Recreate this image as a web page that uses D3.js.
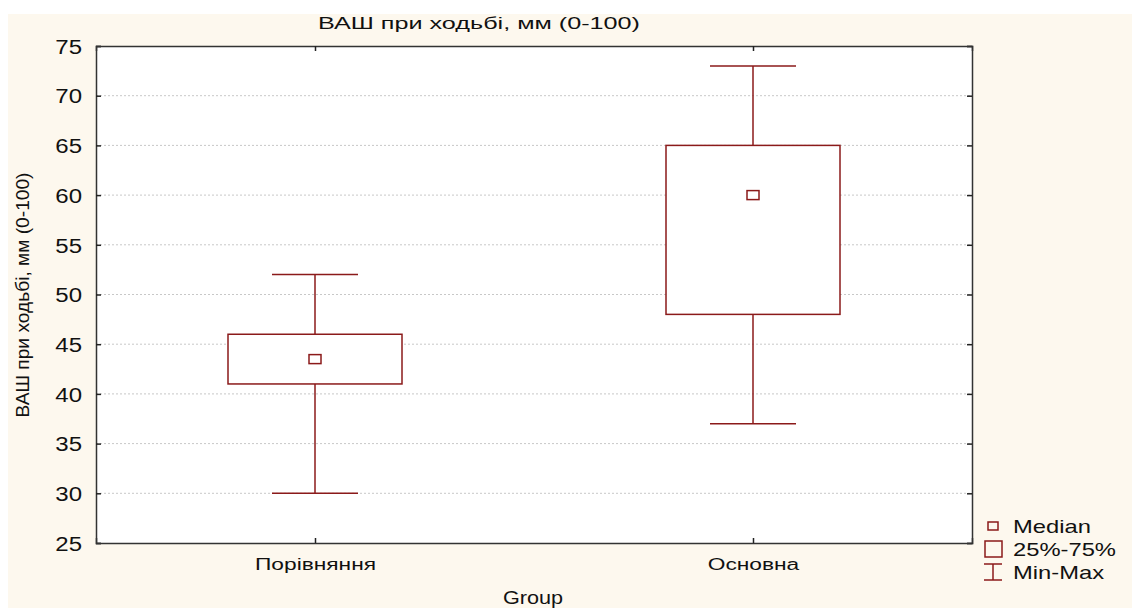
<!DOCTYPE html>
<html>
<head>
<meta charset="utf-8">
<script src="https://cdn.jsdelivr.net/npm/d3@7"></script>
<style>
  body { margin: 0; background: #fff; }
  text { font-family: "Liberation Sans", Arial, sans-serif; fill: #111; }
</style>
</head>
<body>
<div class="chart-container"></div>
<script>
var width = 1132;
var height = 608;

// Data
var groups = ['Порівняння', 'Основна'];
var mins = [30, 37];
var q1s = [41, 48];
var medians = [43.5, 60];
var q3s = [46, 65];
var maxs = [52, 73];
var yTicks = [25, 30, 35, 40, 45, 50, 55, 60, 65, 70, 75];
var legendLabels = ['Median', '25%-75%', 'Min-Max'];

var margin = { left: 96, top: 46, right: 972, bottom: 543 };
var boxColor = '#8b1a1a';

// the original text looks stretched sideways, so widen it to fit
function stretch(sel, factor) {
  sel.each(function () {
    var w = this.getComputedTextLength();
    d3.select(this)
      .attr('textLength', w * factor)
      .attr('lengthAdjust', 'spacingAndGlyphs');
  });
}

var svg = d3.select('.chart-container')
  .append('svg')
  .attr('width', width)
  .attr('height', height);

// cream background
svg.append('rect')
  .attr('x', 8).attr('y', 14)
  .attr('width', width - 8).attr('height', height - 14)
  .attr('fill', '#fdf8ee');

svg.append('rect')
  .attr('x', margin.left).attr('y', margin.top)
  .attr('width', margin.right - margin.left)
  .attr('height', margin.bottom - margin.top)
  .attr('fill', '#fff');

var xScale = d3.scalePoint()
  .domain(groups)
  .range([margin.left, margin.right])
  .padding(0.5);

var yScale = d3.scaleLinear()
  .domain([25, 75])
  .range([margin.bottom, margin.top]);

// grid lines
svg.append('g')
  .selectAll('line')
  .data(yTicks.slice(1, -1))
  .enter()
  .append('line')
  .attr('x1', margin.left).attr('x2', margin.right)
  .attr('y1', d => yScale(d)).attr('y2', d => yScale(d))
  .attr('stroke', '#c8c8c8')
  .attr('stroke-dasharray', '2,2');

// axes, ticks point inward
var gy = svg.append('g')
  .attr('transform', 'translate(' + margin.left + ',0)')
  .call(d3.axisLeft(yScale).tickValues(yTicks).tickSize(-5).tickPadding(14));
gy.selectAll('text').style('font-size', '20px').attr('dy', '0.36em');

var gyr = svg.append('g')
  .attr('transform', 'translate(' + margin.right + ',0)')
  .call(d3.axisRight(yScale).tickValues(yTicks).tickSize(-5).tickFormat(''));

var gx = svg.append('g')
  .attr('transform', 'translate(0,' + margin.bottom + ')')
  .call(d3.axisBottom(xScale).tickSize(-5).tickPadding(16));
gx.selectAll('text').style('font-size', '16px');

var gxt = svg.append('g')
  .attr('transform', 'translate(0,' + margin.top + ')')
  .call(d3.axisTop(xScale).tickSize(-5).tickFormat(''));

[gy, gyr, gx, gxt].forEach(function (g) {
  g.select('.domain').attr('stroke', '#333').attr('stroke-width', 1.5);
  g.selectAll('.tick line').attr('stroke', '#222').attr('stroke-width', 1.5);
});
svg.selectAll('.tick text').attr('fill', '#111');

// boxes
var boxW = 174;
var capW = 86;
var boxes = svg.append('g');

boxes.selectAll('.whisker')
  .data(groups)
  .enter()
  .append('line')
  .attr('class', 'whisker')
  .attr('x1', d => xScale(d)).attr('x2', d => xScale(d))
  .attr('y1', (d, i) => yScale(mins[i]))
  .attr('y2', (d, i) => yScale(maxs[i]))
  .attr('stroke', boxColor).attr('stroke-width', 1.5);

['min', 'max'].forEach(function (k) {
  boxes.selectAll('.cap-' + k)
    .data(groups)
    .enter()
    .append('line')
    .attr('x1', d => xScale(d) - capW / 2).attr('x2', d => xScale(d) + capW / 2)
    .attr('y1', (d, i) => yScale(k === 'min' ? mins[i] : maxs[i]))
    .attr('y2', (d, i) => yScale(k === 'min' ? mins[i] : maxs[i]))
    .attr('stroke', boxColor).attr('stroke-width', 1.5);
});

boxes.selectAll('.box')
  .data(groups)
  .enter()
  .append('rect')
  .attr('x', d => xScale(d) - boxW / 2)
  .attr('y', (d, i) => yScale(q3s[i]))
  .attr('width', boxW)
  .attr('height', (d, i) => yScale(q1s[i]) - yScale(q3s[i]))
  .attr('fill', '#fff')
  .attr('stroke', boxColor).attr('stroke-width', 1.5);

boxes.selectAll('.median')
  .data(groups)
  .enter()
  .append('rect')
  .attr('x', d => xScale(d) - 6)
  .attr('y', (d, i) => yScale(medians[i]) - 4.5)
  .attr('width', 12).attr('height', 9)
  .attr('fill', '#fff')
  .attr('stroke', boxColor).attr('stroke-width', 1.5);

// titles
svg.append('text')
  .attr('x', 479).attr('y', 29)
  .attr('text-anchor', 'middle')
  .style('font-size', '17px')
  .attr('textLength', 322)
  .attr('lengthAdjust', 'spacingAndGlyphs')
  .text('ВАШ при ходьбі, мм (0-100)');

svg.append('text')
  .attr('transform', 'translate(29,295) rotate(-90)')
  .attr('text-anchor', 'middle')
  .style('font-size', '19px')
  .attr('textLength', 245)
  .attr('lengthAdjust', 'spacingAndGlyphs')
  .text('ВАШ при ходьбі, мм (0-100)');

var xTitle = svg.append('text')
  .attr('x', 533).attr('y', 604)
  .attr('text-anchor', 'middle')
  .style('font-size', '18px')
  .text('Group');

// legend
var legend = svg.append('g').attr('transform', 'translate(993,0)');
var legY = [526, 549, 572];

legend.append('rect')
  .attr('x', -5).attr('y', legY[0] - 4)
  .attr('width', 10).attr('height', 8)
  .attr('fill', 'none').attr('stroke', boxColor).attr('stroke-width', 1.5);
legend.append('rect')
  .attr('x', -8).attr('y', legY[1] - 8)
  .attr('width', 17).attr('height', 16)
  .attr('fill', 'none').attr('stroke', boxColor).attr('stroke-width', 1.5);
legend.append('line')
  .attr('x1', 0).attr('x2', 0).attr('y1', legY[2] - 8).attr('y2', legY[2] + 8)
  .attr('stroke', boxColor).attr('stroke-width', 1.5);
legend.append('line')
  .attr('x1', -9).attr('x2', 9).attr('y1', legY[2] - 8).attr('y2', legY[2] - 8)
  .attr('stroke', boxColor).attr('stroke-width', 1.5);
legend.append('line')
  .attr('x1', -9).attr('x2', 9).attr('y1', legY[2] + 8).attr('y2', legY[2] + 8)
  .attr('stroke', boxColor).attr('stroke-width', 1.5);

var legText = legend.selectAll('.leg-text')
  .data(legendLabels)
  .enter()
  .append('text')
  .attr('x', 20)
  .attr('y', (d, i) => legY[i] + 7)
  .style('font-size', '19px')
  .text(d => d);

stretch(gy.selectAll('text'), 1.2);
stretch(gx.selectAll('text'), 1.42);
stretch(xTitle, 1.2);
stretch(legText, 1.25);
</script>
</body>
</html>
